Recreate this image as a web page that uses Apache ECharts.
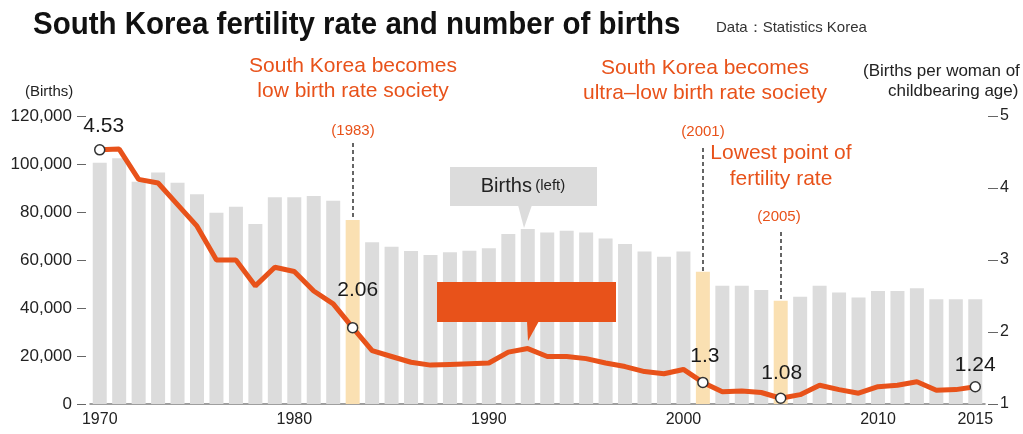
<!DOCTYPE html>
<html>
<head>
<meta charset="utf-8">
<script src="https://cdn.jsdelivr.net/npm/echarts@6/dist/echarts.min.js"></script>
<style>
  html, body { margin: 0; padding: 0; background: #ffffff; }
  #chart { width: 1023px; height: 434px; }
</style>
</head>
<body>
<div id="chart"></div>
<script>
// ---- Data ----
const years = ['1970','1971','1972','1973','1974','1975','1976','1977','1978','1979',
               '1980','1981','1982','1983','1984','1985','1986','1987','1988','1989',
               '1990','1991','1992','1993','1994','1995','1996','1997','1998','1999',
               '2000','2001','2002','2003','2004','2005','2006','2007','2008','2009',
               '2010','2011','2012','2013','2014','2015'];
const births = [100500,102400,92600,96500,92200,87400,79700,82200,75000,86100,
                86100,86700,84700,76700,67400,65500,63700,62100,63200,63900,
                64900,70800,72900,71500,72200,71500,69000,66700,63500,61400,
                63500,55100,49300,49300,47500,43000,44700,49300,46500,44400,
                47100,47100,48200,43600,43600,43600];
const fertility = [4.53,4.54,4.12,4.07,3.77,3.47,3.00,3.00,2.64,2.90,
                   2.84,2.57,2.39,2.06,1.74,1.66,1.58,1.54,1.55,1.56,
                   1.57,1.72,1.77,1.66,1.66,1.63,1.57,1.52,1.45,1.42,
                   1.48,1.30,1.17,1.18,1.16,1.08,1.13,1.26,1.20,1.15,
                   1.24,1.26,1.31,1.19,1.20,1.24];
const xTickYears = ['1970','1980','1990','2000','2010','2015'];
const highlightYears = ['1983','2001','2005'];
const labelledPoints = { '1970': '4.53', '1983': '2.06', '2001': '1.3', '2005': '1.08', '2015': '1.24' };
const leftTicks = { min: 0, max: 120000, step: 20000 };
const rightTicks = { min: 1, max: 5, step: 1 };
// dashed guide lines (year, upper end in births units)
const guideYears = ['1983','2001','2005'];
const guideTops = [108700, 106700, 71700];

// ---- Styles ----
const ORANGE = '#e8521a';
const GRAY_BAR = '#dcdcdc';
const HILITE_BAR = '#fae0b2';
const FONT = '"Liberation Sans", Arial, sans-serif';

const labelOffsets = { '1970': [4, -2], '1983': [5, -16], '2001': [2, -5], '2005': [1, -4], '2015': [0, 0] };

const barData = births.map((v, i) => ({
  value: v,
  itemStyle: { color: highlightYears.includes(years[i]) ? HILITE_BAR : GRAY_BAR }
}));

const lineData = fertility.map((v, i) => {
  const y = years[i];
  if (labelledPoints[y]) {
    return {
      value: v,
      symbol: 'circle',
      symbolSize: 10,
      itemStyle: { color: '#ffffff', borderColor: '#333333', borderWidth: 1.5 },
      label: {
        show: true, position: 'top', formatter: labelledPoints[y],
        color: '#1a1a1a', fontSize: 21, fontFamily: FONT,
        offset: labelOffsets[y]
      }
    };
  }
  return { value: v, symbol: 'none' };
});

const guideLines = guideYears.map((y, i) => ([
  { coord: [y, guideTops[i]] },
  { coord: [y, births[years.indexOf(y)]] }
]));

const chart = echarts.init(document.getElementById('chart'), null, { renderer: 'canvas' });

const option = {
  animation: false,
  backgroundColor: '#ffffff',
  grid: { left: 90, right: 38, top: 116, bottom: 30 },
  xAxis: {
    type: 'category',
    data: years,
    boundaryGap: true,
    axisLine: { show: true, lineStyle: { color: '#808080', width: 1.5 } },
    axisTick: { show: false },
    axisLabel: {
      interval: (idx, val) => xTickYears.includes(val),
      color: '#222', fontSize: 16, fontFamily: FONT, margin: 8
    },
    splitLine: { show: false }
  },
  yAxis: [
    {
      type: 'value', position: 'left', offset: 4,
      min: leftTicks.min, max: leftTicks.max, interval: leftTicks.step,
      axisLine: { show: false },
      axisTick: { show: true, length: 9, lineStyle: { color: '#666', width: 1 } },
      axisLabel: {
        color: '#222', fontSize: 17, fontFamily: FONT, margin: 14,
        formatter: v => v.toLocaleString('en-US')
      },
      splitLine: { show: false }
    },
    {
      type: 'value', position: 'right', offset: 3,
      min: rightTicks.min, max: rightTicks.max, interval: rightTicks.step,
      axisLine: { show: false },
      axisTick: { show: true, length: 10, lineStyle: { color: '#666', width: 1 } },
      axisLabel: { color: '#222', fontSize: 16, fontFamily: FONT, margin: 12 },
      splitLine: { show: false }
    }
  ],
  series: [
    {
      type: 'bar',
      data: barData,
      barWidth: 14,
      yAxisIndex: 0,
      z: 2,
      markLine: {
        silent: true,
        symbol: ['none', 'none'],
        label: { show: false },
        lineStyle: { color: '#333', type: [4, 3], width: 1.5 },
        data: guideLines
      }
    },
    {
      type: 'line',
      data: lineData,
      yAxisIndex: 1,
      z: 5,
      lineStyle: { color: ORANGE, width: 5 },
      itemStyle: { color: ORANGE },
      showSymbol: true,
      smooth: false
    }
  ],
  graphic: [
    // Title
    { type: 'text', left: 33, top: 9, scaleY: 1.06,
      style: { text: 'South Korea fertility rate and number of births', fill: '#111',
               font: 'bold 29.5px ' + FONT } },
    { type: 'text', left: 716, top: 20,
      style: { text: 'Data：Statistics Korea', fill: '#333', font: '15px ' + FONT } },
    // axis titles
    { type: 'text', left: 25, top: 84,
      style: { text: '(Births)', fill: '#222', font: '15px ' + FONT } },
    { type: 'text', left: 863, top: 63,
      style: { text: '(Births per woman of', fill: '#222', font: '17px ' + FONT } },
    { type: 'text', left: 888, top: 83,
      style: { text: 'childbearing age)', fill: '#222', font: '17px ' + FONT } },
    // annotations
    { type: 'text', x: 353, y: 79,
      style: { text: 'South Korea becomes\nlow birth rate society', fill: ORANGE,
               font: '21px ' + FONT, align: 'center', verticalAlign: 'middle', lineHeight: 25 } },
    { type: 'text', x: 353, y: 131,
      style: { text: '(1983)', fill: ORANGE, font: '15px ' + FONT, align: 'center', verticalAlign: 'middle' } },
    { type: 'text', x: 705, y: 81,
      style: { text: 'South Korea becomes\nultra\u2013low birth rate society', fill: ORANGE,
               font: '21px ' + FONT, align: 'center', verticalAlign: 'middle', lineHeight: 25 } },
    { type: 'text', x: 703, y: 132,
      style: { text: '(2001)', fill: ORANGE, font: '15px ' + FONT, align: 'center', verticalAlign: 'middle' } },
    { type: 'text', x: 781, y: 166,
      style: { text: 'Lowest point of\nfertility rate', fill: ORANGE,
               font: '21px ' + FONT, align: 'center', verticalAlign: 'middle', lineHeight: 26 } },
    { type: 'text', x: 779, y: 217,
      style: { text: '(2005)', fill: ORANGE, font: '15px ' + FONT, align: 'center', verticalAlign: 'middle' } },
    // Births (left) callout
    { type: 'rect', shape: { x: 450, y: 167, width: 147, height: 39 }, style: { fill: GRAY_BAR }, z: 10 },
    { type: 'polygon', shape: { points: [[518, 205], [532, 205], [524, 228]] }, style: { fill: GRAY_BAR }, z: 10 },
    { type: 'text', x: 523, y: 186, z: 11,
      style: { rich: { a: { font: '20px ' + FONT, fill: '#222' }, b: { font: '15px ' + FONT, fill: '#222' } },
               text: '{a|Births} {b|(left)}', align: 'center', verticalAlign: 'middle' } },
    // orange callout
    { type: 'rect', shape: { x: 437, y: 282, width: 179, height: 40 }, style: { fill: ORANGE }, z: 10 },
    { type: 'polygon', shape: { points: [[527, 321], [539, 321], [528, 341]] }, style: { fill: ORANGE }, z: 10 }
  ]
};

chart.setOption(option);
</script>
</body>
</html>
